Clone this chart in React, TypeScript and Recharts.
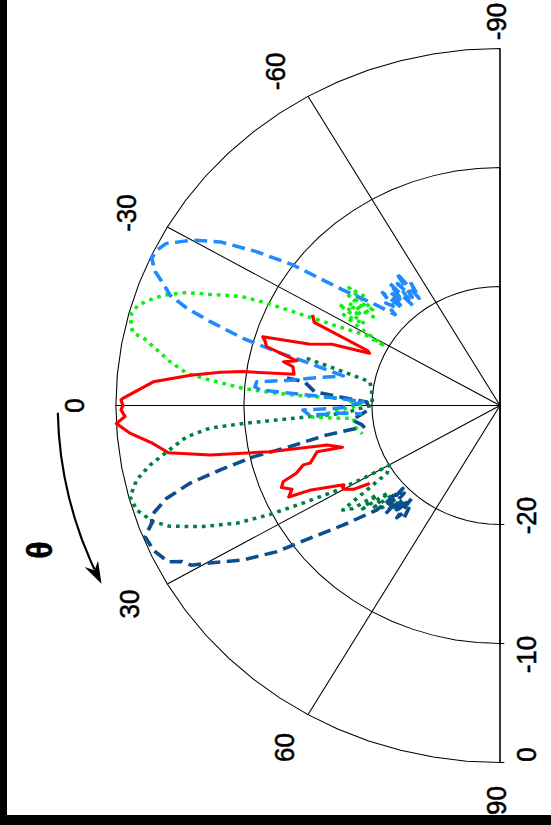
import React from 'react';
import { RadarChart, Radar, PolarGrid, PolarAngleAxis, PolarRadiusAxis } from 'recharts';

// angle ticks (theta, degrees) and level rings (dB)
const angleTicks = [-90, -60, -30, 0, 30, 60, 90];
const gridAngles = [
  -90, -85, -80, -75, -70, -65, -60, -55, -50, -45, -40, -35, -30, -25, -20, -15, -10, -5, 0,
  5, 10, 15, 20, 25, 30, 35, 40, 45, 50, 55, 60, 65, 70, 75, 80, 85, 90,
];
const dbTicks = [-20, -10, 0];

// [theta, dB]
const red: [number, number][] = [
  [-27.5, -13.5], [-25.7, -13.9], [-24.0, -18.7], [-23.3, -18.9], [-21.4, -15.9], [-19.1, -14.2],
  [-18.0, -12.2], [-17.3, -10.6], [-16.3, -10.9], [-15.2, -11.1], [-13.3, -13.7], [-12.3, -12.7],
  [-11.4, -13.5], [-9.3, -13.7], [-8.6, -11.8], [-8.1, -9.7], [-7.3, -8.0], [-6.0, -5.7],
  [-4.2, -2.85], [-1.2, -0.57], [-0.9, -0.4], [0, -0.55], [0.7, -0.4], [1.8, -0.7], [2.9, 0],
  [4.6, -1.0], [6.7, -2.7], [8.7, -3.8], [10.4, -7.0], [12.2, -11.6], [13.8, -16.1], [15.9, -17.2],
  [15.2, -15.2], [18.1, -14.4], [18.0, -13.85], [19.7, -13.1], [20.7, -11.9], [22.0, -11.6],
  [23.4, -12.3], [25.0, -11.8], [25.6, -13.5], [28.6, -16.1], [29.9, -15.9], [31.6, -16.55], [32.8, -17.9],
];

const lightBlue: [number, number][] = [
  [-56, -17.5], [-55, -19.0], [-54, -16.2], [-53, -18.6], [-52, -17.0], [-51, -19.2], [-50, -16.6],
  [-49, -18.4], [-48, -17.2], [-47, -18.9], [-46, -16.8], [-45, -18.2], [-44, -17.6], [-43, -18.8],
  [-41.2, -17.2], [-38.4, -14.4], [-36.1, -9.9], [-34.2, -7.0], [-32.2, -4.2], [-30.1, -2.3],
  [-27.6, -0.6], [-26, -0.2], [-24.5, -0.1], [-22.7, -0.8], [-20.9, -2.0], [-19.8, -2.6],
  [-18.5, -4.2], [-17.3, -6.3], [-15.7, -9.2], [-14.5, -12.0], [-13.4, -14.7], [-11.5, -17.5],
  [-8.8, -15.0], [-7.4, -13.5], [-6.0, -10.9], [-4.7, -10.8], [-4.0, -11.2], [-3.6, -13.6],
  [-3.1, -16.2], [-2.3, -18.3], [-1.7, -19.3], [1.0, -17.5], [1.4, -14.6], [3.1, -15.1],
  [3.0, -17.9], [3.8, -19.2],
];

const lime: [number, number][] = [
  [-41, -16.0], [-40, -14.6], [-39, -17.2], [-38, -15.0], [-37, -17.6], [-36, -15.4], [-35, -16.8],
  [-34, -14.8], [-33, -17.4], [-32, -15.6], [-31, -17.0], [-30, -18.4], [-29.1, -19.5],
  [-29.4, -17.9], [-27.5, -15.4], [-26.2, -12.5], [-25.3, -9.9], [-24.4, -7.8], [-22.4, -5.5],
  [-21.2, -3.75], [-19.4, -2.1], [-18.0, -1.26], [-16.6, -0.5], [-15.1, -0.2], [-13.2, -0.38],
  [-12.0, -0.72], [-11.5, -1.6], [-9.9, -2.8], [-8.1, -4.0], [-6.3, -5.4], [-5.4, -7.25],
  [-4.1, -9.9], [-3.4, -12.5], [-2.9, -15.15], [-2.8, -17.75], [-0.2, -19.1], [3.8, -15.3],
  [4.6, -16.9], [5.4, -18.5], [9.5, -18.6], [12.5, -19.0],
];

const darkGreen: [number, number][] = [
  [-14.7, -14.4], [-13.1, -17.4], [-11.1, -19.65], [-7, -19.9], [-3.5, -20], [-0.2, -20],
  [3.1, -17.75], [3.6, -15.1], [4.0, -12.5], [4.3, -9.9], [4.8, -7.3], [6.1, -5.4], [8.5, -3.7],
  [10.4, -2.2], [12.4, -0.95], [14.9, -0.1], [17.2, -0.3], [19.8, -1.2], [21.5, -2.3],
  [23.7, -4.7], [25.7, -7.2], [27, -9.8], [28, -12.4], [29.2, -15.2], [29.8, -17.6], [30.2, -20],
  [32.8, -19.5], [35.6, -14.9], [37, -15.6], [38, -17.8], [39, -16.2], [40, -18.6], [41, -17.0],
  [42, -18.9], [43, -17.4], [44, -18.4], [45, -17.6], [46, -19.0],
];

const darkBlue: [number, number][] = [
  [-7.9, -13.2], [-7.4, -14.6], [-4.5, -15.5], [-3.0, -17.9], [-1.6, -19.6], [2.1, -19.7],
  [6.0, -18.4], [8.6, -19.1], [9.5, -19.2], [10.4, -16.2], [11.9, -13.2], [12.6, -10.3],
  [13.9, -7.5], [15.1, -4.9], [16.7, -2.8], [18.7, -1.3], [20.0, -1.05], [21.7, -0.17],
  [24.2, -0.33], [26.9, -0.96], [27.8, -1.9], [29.1, -2.4], [30.3, -3.75], [32.9, -6.1],
  [35.2, -8.7], [36.9, -11.4], [39.4, -14.2], [42.4, -17.0], [42.6, -19.7], [43.5, -18.0],
  [44.5, -19.5], [45.5, -17.4], [46.5, -19.2], [47.5, -17.8], [48.5, -19.6], [49.5, -17.6],
  [50.5, -18.8], [51.5, -18.0],
];

const series = [
  { key: 'darkGreen', pts: darkGreen, color: '#008040', width: 3.5, dash: '3.5 4.5' },
  { key: 'lime', pts: lime, color: '#11EE11', width: 3.5, dash: '3.5 4.5' },
  { key: 'darkBlue', pts: darkBlue, color: '#0B4F8F', width: 3.5, dash: '12 6' },
  { key: 'lightBlue', pts: lightBlue, color: '#1E8CFF', width: 3.5, dash: '12 6' },
  { key: 'red', pts: red, color: '#FF0000', width: 3, dash: undefined },
];

const data = series.flatMap((s) => s.pts.map(([theta, db]) => ({ theta, [s.key]: db })));

const CX = 500;
const CY = 405.5;
const R = 357;
const SX = 1.076; // the picture is a little wider than tall

const font = {
  fontFamily: '"Liberation Sans", Arial, sans-serif',
  fontSize: 26,
  fill: '#000',
  stroke: '#000',
  strokeWidth: 0.5,
};

// small nudges so the labels sit where the original put them (screen px)
const angleShift: Record<number, [number, number]> = {
  [-90]: [-3, 11], [-60]: [-12, 8], [-30]: [-5, 5], 0: [0, 0], 30: [-2, 1], 60: [-3, 0], 90: [-3, 0],
};
const dbShift: Record<number, number> = { [-20]: -9, [-10]: 11, 0: -8 };

const AngleTick = (p: any) => {
  const [dx, dy] = angleShift[p.payload.value] || [0, 0];
  const x = p.x + dx / SX;
  const y = p.y + dy;
  return (
    <text x={x} y={y} transform={`rotate(-90 ${x} ${y})`} textAnchor="middle" dominantBaseline="central" style={font}>
      {p.payload.value}
    </text>
  );
};

const DbTick = (p: any) => {
  const x = p.x + 25;
  const y = p.y + (dbShift[p.payload.value] || 0);
  return (
    <g>
      <line x1={p.x} y1={p.y} x2={p.x + 4} y2={p.y} stroke="#000" strokeWidth={1} />
      <text x={x} y={y} transform={`rotate(-90 ${x} ${y})`} textAnchor="middle" dominantBaseline="central" style={font}>
        {p.payload.value}
      </text>
    </g>
  );
};

const TopTick = (p: any) => <line x1={p.x} y1={p.y} x2={p.x + 4} y2={p.y} stroke="#000" strokeWidth={1} />;

const openShape = (color: string, width: number, dash?: string) => (props: any) => {
  const pts = (props.points || []).filter(
    (pt: any) => pt.value != null && Number.isFinite(pt.x) && Number.isFinite(pt.y)
  );
  const d = pts.map((pt: any, i: number) => `${i ? 'L' : 'M'}${pt.x},${pt.y}`).join(' ');
  return (
    <path d={d} fill="none" stroke={color} strokeWidth={width} strokeDasharray={dash} strokeLinejoin="round" />
  );
};

// theta arrow drawn round the plot
const ARROW_R = 411;
const polar = (deg: number, r: number) => {
  const a = (deg * Math.PI) / 180;
  return [CX - r * Math.cos(a), CY + r * Math.sin(a)];
};
const arcPts = [1, 4, 7, 10, 13, 16, 19, 22, 23.5].map((d) => polar(d, ARROW_R));
const arcPath = arcPts.map((p, i) => `${i ? 'L' : 'M'}${p[0]},${p[1]}`).join(' ');
const tipA = (25.7 * Math.PI) / 180;
const tip = polar(25.7, ARROW_R);
const dir = [Math.sin(tipA), Math.cos(tipA)];
const nrm = [Math.cos(tipA), -Math.sin(tipA)];
const head = [
  tip,
  [tip[0] - 22 * dir[0] + 7 * nrm[0], tip[1] - 22 * dir[1] + 7 * nrm[1]],
  [tip[0] - 15 * dir[0], tip[1] - 15 * dir[1]],
  [tip[0] - 22 * dir[0] - 7 * nrm[0], tip[1] - 22 * dir[1] - 7 * nrm[1]],
]
  .map((p) => `${p[0]},${p[1]}`)
  .join(' ');

export default function App() {
  return (
    <div style={{ position: 'fixed', left: 0, top: 0, width: 551, height: 825, background: '#fff', overflow: 'hidden' }}>
      <div
        style={{
          position: 'absolute',
          left: 0,
          top: 0,
          width: 551,
          height: 825,
          transform: `scaleX(${SX})`,
          transformOrigin: `${CX}px ${CY}px`,
        }}
      >
        <RadarChart
          width={551}
          height={825}
          data={data}
          cx={CX}
          cy={CY}
          innerRadius={0}
          outerRadius={R}
          startAngle={90}
          endAngle={270}
          margin={{ top: 0, right: 0, bottom: 0, left: 0 }}
        >
          <PolarAngleAxis
            angleAxisId="g"
            dataKey="theta"
            type="number"
            domain={[-90, 90]}
            ticks={gridAngles}
            tick={false}
            tickLine={false}
            axisLine={false}
          />
          <PolarRadiusAxis
            radiusAxisId={0}
            angle={270}
            type="number"
            domain={[-30, 0]}
            ticks={dbTicks}
            axisLine={false}
            tick={DbTick}
          />
          <PolarRadiusAxis
            radiusAxisId="t"
            angle={90}
            type="number"
            domain={[-30, 0]}
            ticks={dbTicks}
            axisLine={false}
            tick={TopTick}
          />
          <PolarGrid angleAxisId="g" radiusAxisId={0} gridType="polygon" radialLines={false} stroke="#000" strokeWidth={1} />
          <PolarGrid angleAxisId={0} radiusAxisId={0} gridType="polygon" polarRadius={[]} stroke="#000" strokeWidth={1} />
          {series.map((s) => (
            <Radar
              key={s.key}
              dataKey={s.key}
              angleAxisId={0}
              radiusAxisId={0}
              isAnimationActive={false}
              dot={false}
              shape={openShape(s.color, s.width, s.dash)}
            />
          ))}
          <PolarAngleAxis
            angleAxisId={0}
            dataKey="theta"
            type="number"
            domain={[-90, 90]}
            ticks={angleTicks}
            tickLine={false}
            axisLine={false}
            tickSize={38}
            tick={AngleTick}
          />
        </RadarChart>
        <svg width={551} height={825} style={{ position: 'absolute', left: 0, top: 0 }}>
          <path d={arcPath} fill="none" stroke="#000" strokeWidth={2} />
          <polygon points={head} fill="#000" />
          <text
            x={CX - 427.5}
            y={550}
            transform={`rotate(-90 ${CX - 427.5} 550)`}
            textAnchor="middle"
            dominantBaseline="central"
            style={{ ...font, fontSize: 32, fontWeight: 'bold' }}
          >
            θ
          </text>
        </svg>
      </div>
      <div style={{ position: 'absolute', left: 0, top: 0, width: 7, height: 825, background: '#000' }} />
      <div style={{ position: 'absolute', left: 0, top: 815, width: 551, height: 10, background: '#000' }} />
    </div>
  );
}
